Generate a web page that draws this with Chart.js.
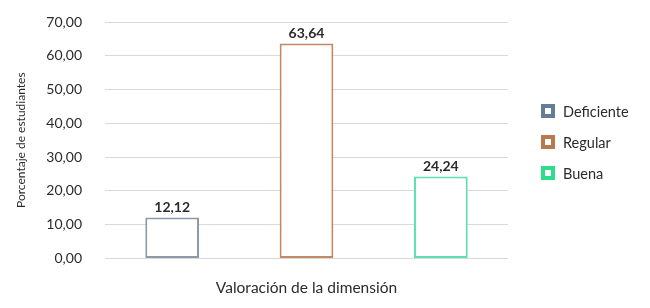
<!DOCTYPE html>
<html>
<head>
<meta charset="utf-8">
<script src="https://cdn.jsdelivr.net/npm/chart.js@4"></script>
<style>
  html, body { margin: 0; padding: 0; background: #fff; }
  #wrap { width: 650px; height: 308px; }
</style>
</head>
<body>
<div id="wrap"><canvas id="chart" width="650" height="308"></canvas></div>
<script>
// data
var categories = ['Deficiente', 'Regular', 'Buena'];
var values = [12.12, 63.64, 24.24];
var yTicks = [0, 10, 20, 30, 40, 50, 60, 70];
var barColors = ['#8d98a8', '#c18a66', '#5ddfae'];
var legendColors = ['#637c9a', '#b8794d', '#2edc8c'];

function fmt(v) {
  return v.toFixed(2).replace('.', ',');
}

// value labels above each bar
var barLabels = {
  id: 'barLabels',
  afterDatasetsDraw: function(chart) {
    var ctx = chart.ctx;
    var meta = chart.getDatasetMeta(0);
    ctx.save();
    ctx.font = 'bold 14px Lato';
    ctx.fillStyle = '#2b2b2b';
    ctx.textAlign = 'center';
    ctx.textBaseline = 'bottom';
    meta.data.forEach(function(bar, i) {
      ctx.fillText(fmt(values[i]), bar.x, bar.y - 3);
    });
    ctx.restore();
  }
};

// legend on the right, drawn by hand so it can sit away from the plot
var sideLegend = {
  id: 'sideLegend',
  afterDraw: function(chart) {
    var ctx = chart.ctx;
    var x = 541, y0 = 111, step = 31, size = 14;
    ctx.save();
    ctx.font = '14.5px Lato';
    ctx.textBaseline = 'middle';
    ctx.textAlign = 'left';
    categories.forEach(function(name, i) {
      var cy = y0 + i * step;
      ctx.fillStyle = legendColors[i];
      ctx.fillRect(x, cy - size / 2, size, size);
      ctx.fillStyle = '#fff';
      ctx.fillRect(x + 4, cy - size / 2 + 4, size - 8, size - 8);
      ctx.fillStyle = '#2b2b2b';
      ctx.fillText(name, x + size + 8, cy + 1);
    });
    ctx.restore();
  }
};

new Chart(document.getElementById('chart'), {
  type: 'bar',
  data: {
    labels: categories,
    datasets: [{
      data: values,
      backgroundColor: '#fff',
      borderColor: barColors,
      borderWidth: 2,
      borderSkipped: false,
      barPercentage: 0.8,
      categoryPercentage: 0.5
    }]
  },
  options: {
    responsive: false,
    animation: false,
    layout: { padding: { left: 0, right: 142, top: 22, bottom: 11 } },
    plugins: {
      legend: { display: false },
      tooltip: { enabled: false }
    },
    scales: {
      x: {
        grid: { display: false, drawTicks: false },
        border: { display: false },
        ticks: { display: false },
        title: {
          display: true,
          text: 'Valoración de la dimensión',
          color: '#2b2b2b',
          font: { family: 'Lato', size: 15.5 },
          padding: { top: 20, bottom: 0 }
        }
      },
      y: {
        min: 0,
        max: 70,
        afterBuildTicks: function(axis) {
          axis.ticks = yTicks.map(function(v) { return { value: v }; });
        },
        afterFit: function(axis) {
          axis.width = 105;
          // tick padding is meant to be horizontal only
          axis.paddingTop = 0;
          axis.paddingBottom = 0;
        },
        grid: { color: '#d9d9d9', lineWidth: 1, drawTicks: false },
        border: { display: false },
        ticks: {
          padding: 23,
          color: '#2b2b2b',
          font: { family: 'Lato', size: 14 },
          callback: function(v) { return fmt(v); }
        },
        title: {
          display: true,
          text: 'Porcentaje de estudiantes',
          color: '#2b2b2b',
          font: { family: 'Lato', size: 12 },
          padding: { top: 14, bottom: 0 }
        }
      }
    }
  },
  plugins: [barLabels, sideLegend]
});
</script>
</body>
</html>
